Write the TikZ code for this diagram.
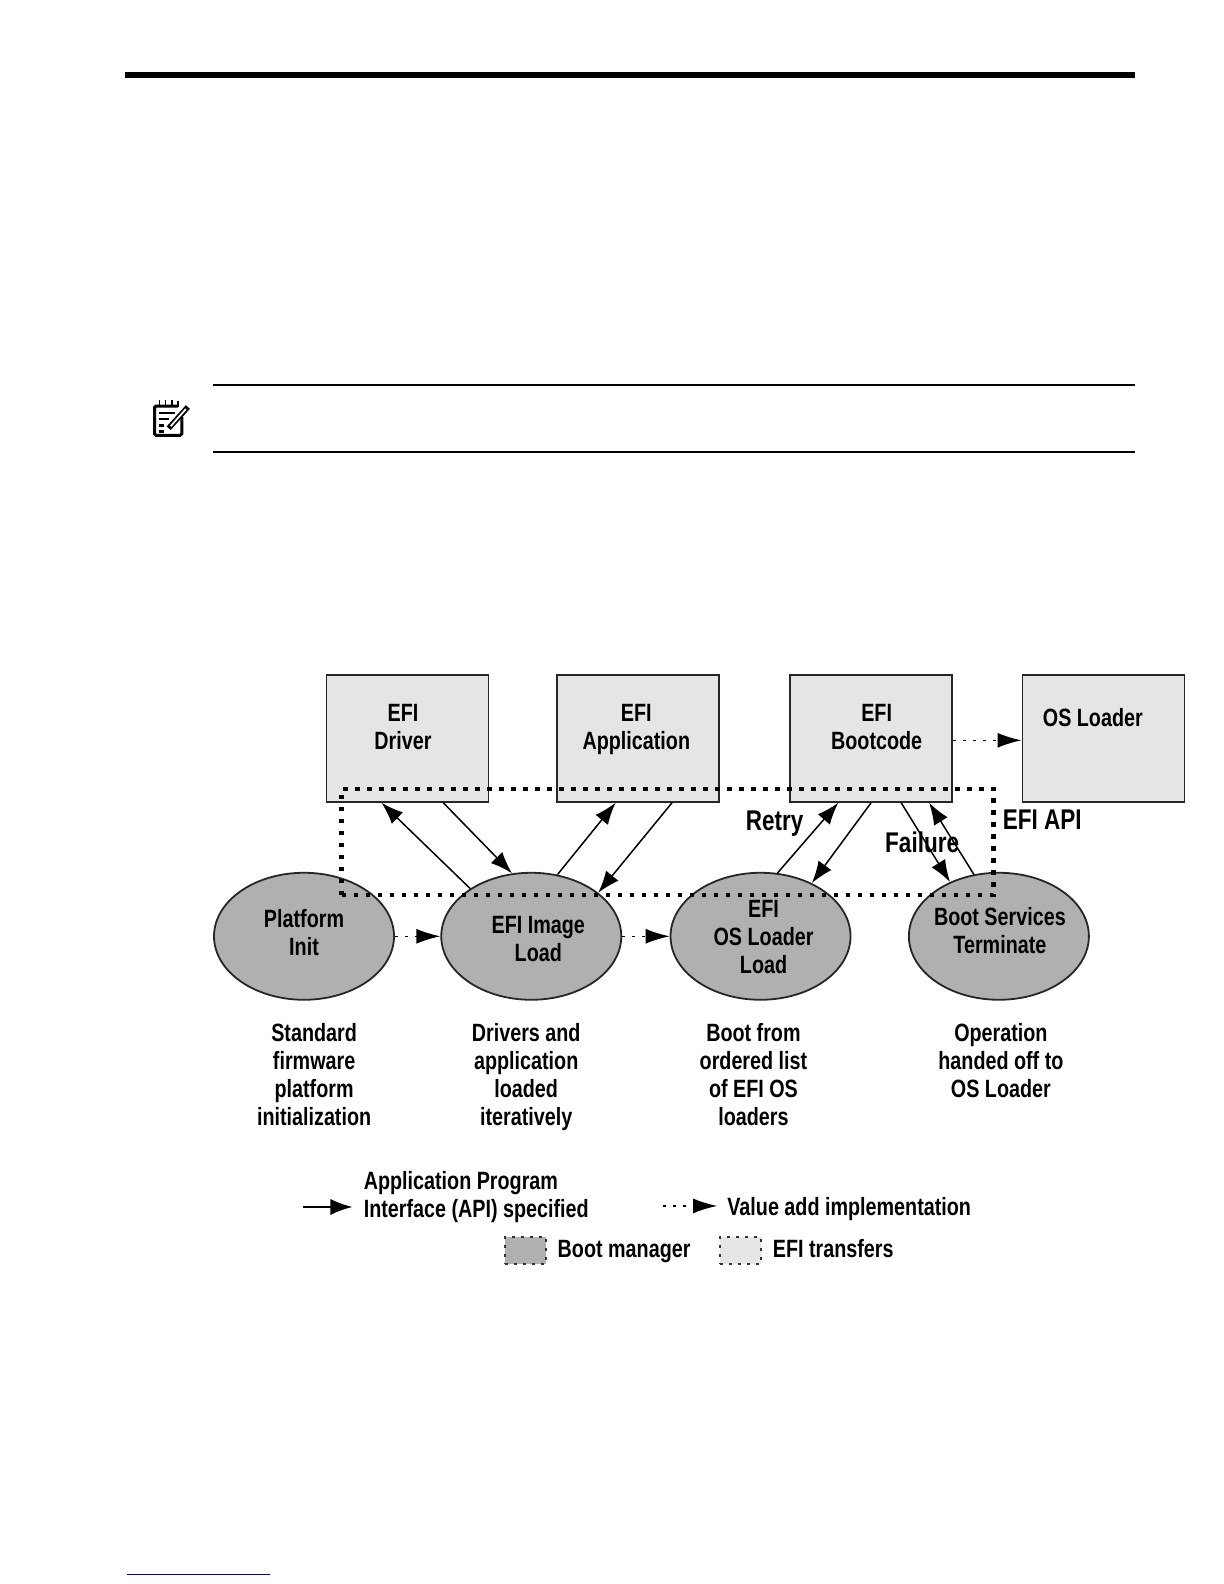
\documentclass[tikz,border=0pt]{standalone}
\usepackage{fontspec}
\setmainfont[FakeStretch=0.79]{Liberation Sans}
\usetikzlibrary{arrows.meta,shapes.geometric}

\tikzset{
  transfer/.style={draw=black!85,line width=1.8pt,fill=black!10,minimum width=162pt,minimum height=127pt,inner sep=0pt},
  manager/.style={ellipse,draw=black!85,line width=1.8pt,fill=black!31,minimum width=180pt,minimum height=127pt,inner sep=0pt},
  lbl/.style={font=\fontsize{25}{28}\selectfont\bfseries,align=center,inner sep=0pt,anchor=north},
  biglbl/.style={lbl,font=\fontsize{28.5}{32}\selectfont\bfseries},
  lbll/.style={lbl,align=left,anchor=base west},
  api/.style={-{Latex[length=22pt,width=16pt]},line width=1.5pt,black},
  valueadd/.style={-{Latex[length=24pt,width=15pt]},line width=1.5pt,black,dash pattern=on 3pt off 7pt},
  apibox/.style={draw=black,line width=4.6pt,dash pattern=on 4.6pt off 7.4pt},
  swatch/.style={draw=black!80,line width=1.6pt,dash pattern=on 3pt off 6pt,minimum width=41pt,minimum height=27pt,inner sep=0pt}
}

\begin{document}
\begin{tikzpicture}[x=1.01pt,y=-1.01pt]
\useasboundingbox (0,0) rectangle (1211.88,1568.32);
\fill[white] (0,0) rectangle (1211.88,1568.32);

% page furniture
\coordinate (ruleL) at (124,74);
\coordinate (ruleR) at (1124,74);
\draw[line width=6pt] (ruleL) -- (ruleR);
\coordinate (noteAL) at (211,381);
\coordinate (noteAR) at (1124,381);
\coordinate (noteBL) at (211,447.5);
\coordinate (noteBR) at (1124,447.5);
\draw[line width=1.5pt] (noteAL) -- (noteAR);
\draw[line width=1.5pt] (noteBL) -- (noteBR);
\coordinate (linkL) at (126,1559);
\coordinate (linkR) at (267,1559);
\draw[line width=1.3pt,blue!60!black] (linkL) -- (linkR);

% note icon
\draw[line width=3pt,rounded corners=1.5pt] (176,402) -- (153,402) -- (153,431) -- (180,431) -- (180,413);
\draw[line width=1.6pt] (158,396) -- (158,402) (164,396) -- (164,402) (170,396) -- (170,402) (176,397) -- (176,403);
\draw[line width=2.6pt] (157,409) -- (173,409) (157,415) -- (167,415) (157,421) -- (162,421) (157,427) -- (162,427);
\draw[line width=5.4pt] (167,424) -- (186,403);
\draw[line width=1.8pt,white] (169,422) -- (184,405);

% boxes
\node[transfer] (driver) at (403.5,731) {};
\node[transfer] (application) at (631.5,731) {};
\node[transfer] (bootcode) at (862.5,731) {};
\node[transfer] (osloader) at (1092.5,731) {};
\node[lbl] (driverlbl) at (399,697) {EFI\\Driver};
\node[lbl] (applicationlbl) at (630,697) {EFI\\Application};
\node[lbl] (bootcodelbl) at (868,697) {EFI\\Bootcode};
\node[lbl] (osloaderlbl) at (1082,701) {OS Loader};

% ellipses
\node[manager] (platform) at (301,927) {};
\node[manager] (image) at (526,927) {};
\node[manager] (loader) at (753,927) {};
\node[manager] (services) at (989,927) {};
\node[lbl] (platformlbl) at (301,900) {Platform\\Init};
\node[lbl] (imagelbl) at (533,907) {EFI Image\\Load};
\node[lbl] (loaderlbl) at (756,891) {EFI\\OS Loader\\Load};
\node[lbl] (serviceslbl) at (990,898) {Boot Services\\Terminate};

% flow
\draw[valueadd] (platform) -- (image);
\draw[valueadd] (image) -- (loader);
\draw[valueadd] ([yshift=-2pt]bootcode.east) -- ([yshift=-2pt]osloader.west);

\draw[api] (image.142) -- (driver.248);
\draw[api] (driver.299) -- (image.107);
\draw[api] (image.67) -- (application.251);
\draw[api] (application.298) -- (image.33);
\draw[api] (loader.75) -- (bootcode.243);
\draw[api] (bootcode.270) -- (loader.46);
\draw[api] (bootcode.295) -- (services.132);
\draw[api] (services.112) -- (bootcode.312);

% API region
\node[apibox,minimum width=652pt,minimum height=106pt,inner sep=0pt] (apiregion) at (661,833.5) {};

\node[biglbl] (retrylbl) at (767,803) {Retry};
\node[biglbl] (failurelbl) at (913,823) {Failure};
\node[biglbl] (apilbl) at (1032,802) {EFI API};

% captions
\node[lbl] (platformcap) at (311,1013) {Standard\\firmware\\platform\\initialization};
\node[lbl] (imagecap) at (521,1013) {Drivers and\\application\\loaded\\iteratively};
\node[lbl] (loadercap) at (746,1013) {Boot from\\ordered list\\of EFI OS\\loaders};
\node[lbl] (servicescap) at (991,1013) {Operation\\handed off to\\OS Loader};

% legend
\coordinate (legendA) at (300,1195);
\coordinate (legendB) at (349,1195);
\draw[api] (legendA) -- (legendB);
\node[lbll,anchor=north west] (legendapi) at (360,1160) {Application Program\\Interface (API) specified};
\coordinate (legendC) at (656,1194);
\coordinate (legendD) at (710,1194);
\draw[valueadd] (legendC) -- (legendD);
\node[lbll] (legendvalue) at (720,1203) {Value add implementation};
\node[swatch,fill=black!31] (legendmanager) at (520,1238) {};
\node[lbll] (legendmanagerlbl) at (552,1245) {Boot manager};
\node[swatch,fill=black!10] (legendtransfer) at (733,1238) {};
\node[lbll] (legendtransferlbl) at (765,1245) {EFI transfers};
\end{tikzpicture}
\end{document}
